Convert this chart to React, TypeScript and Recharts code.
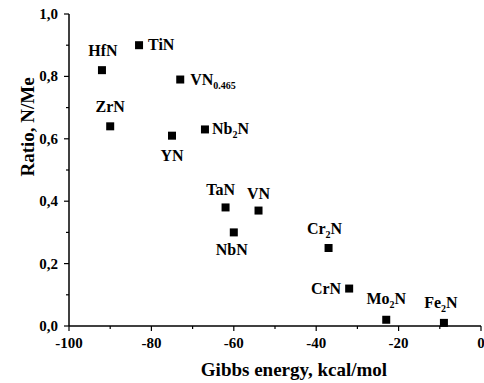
import { ScatterChart, Scatter, XAxis, YAxis } from 'recharts';

const compounds = ['HfN', 'TiN', 'VN0.465', 'ZrN', 'YN', 'Nb2N', 'TaN', 'VN', 'NbN', 'Cr2N', 'CrN', 'Mo2N', 'Fe2N'];
const gibbsEnergy = [-92, -83, -73, -90, -75, -67, -62, -54, -60, -37, -32, -23, -9];
const ratio = [0.82, 0.9, 0.79, 0.64, 0.61, 0.63, 0.38, 0.37, 0.3, 0.25, 0.12, 0.02, 0.01];

const xTicks = [-100, -90, -80, -70, -60, -50, -40, -30, -20, -10, 0];
const yTicks = [0, 0.1, 0.2, 0.3, 0.4, 0.5, 0.6, 0.7, 0.8, 0.9, 1.0];

// where each label sits relative to its marker: [dx, dy, anchor]
const labelPlacement: Record<string, [number, number, string]> = {
  HfN: [1, -14, 'middle'],
  TiN: [9, 5, 'start'],
  'VN0.465': [10, 5, 'start'],
  ZrN: [0, -14, 'middle'],
  YN: [0, 25, 'middle'],
  Nb2N: [7, 5, 'start'],
  TaN: [-5, -12, 'middle'],
  VN: [0, -12, 'middle'],
  NbN: [-2, 23, 'middle'],
  Cr2N: [-4, -14, 'middle'],
  CrN: [-8, 5, 'end'],
  Mo2N: [0, -16, 'middle'],
  Fe2N: [-3, -15, 'middle'],
};

const data = compounds.map((name, i) => ({ name, energy: gibbsEnergy[i], ratio: ratio[i] }));

const textStyle = { fontFamily: "'Liberation Serif', 'DejaVu Serif', serif", fontWeight: 'bold' as const };

function Formula({ text, x, y, anchor }: { text: string; x: number; y: number; anchor: string }) {
  const parts = text.split(/(\d[\d.]*)/).filter(p => p !== '');
  let shifted = false;
  return (
    <text x={x} y={y} textAnchor={anchor} style={{ ...textStyle, fontSize: 16 }} fill="#000">
      {parts.map((p, i) => {
        const isSub = /^\d/.test(p);
        let dy = 0;
        if (isSub && !shifted) { dy = 4; shifted = true; }
        else if (!isSub && shifted) { dy = -4; shifted = false; }
        return (
          <tspan key={i} dy={dy} style={{ fontSize: isSub ? 10 : 16 }}>{p}</tspan>
        );
      })}
    </text>
  );
}

function Marker(props: any) {
  const { cx, cy, payload } = props;
  const [dx, dy, anchor] = labelPlacement[payload.name] || [8, 5, 'start'];
  return (
    <g>
      <rect x={cx - 4} y={cy - 4} width={8} height={8} fill="#000" />
      <Formula text={payload.name} x={cx + dx} y={cy + dy} anchor={anchor} />
    </g>
  );
}

function XTick(props: any) {
  const { x, y, payload } = props;
  const major = payload.value % 20 === 0;
  return (
    <g>
      <line x1={x} y1={y} x2={x} y2={y + (major ? 5 : 3)} stroke="#000" strokeWidth={1.2} />
      {major && (
        <text x={x} y={y + 22} textAnchor="middle" style={{ ...textStyle, fontSize: 15 }} fill="#000">
          {payload.value}
        </text>
      )}
    </g>
  );
}

function YTick(props: any) {
  const { x, y, payload } = props;
  const v = Math.round(payload.value * 10);
  const major = v % 2 === 0;
  return (
    <g>
      <line x1={x} y1={y} x2={x - (major ? 5 : 3)} y2={y} stroke="#000" strokeWidth={1.2} />
      {major && (
        <text x={x - 11} y={y + 5} textAnchor="end" style={{ ...textStyle, fontSize: 15 }} fill="#000">
          {payload.value.toFixed(1).replace('.', ',')}
        </text>
      )}
    </g>
  );
}

function XTitle(props: any) {
  const { viewBox } = props;
  return (
    <text x={viewBox.x + viewBox.width / 2 + 19} y={viewBox.y + 50} textAnchor="middle" style={{ ...textStyle, fontSize: 19 }} fill="#000">
      Gibbs energy, kcal/mol
    </text>
  );
}

function YTitle() {
  return (
    <text x={0} y={0} transform="translate(34,127) rotate(-90)" textAnchor="middle" style={{ ...textStyle, fontSize: 19 }} fill="#000">
      Ratio, N/Me
    </text>
  );
}

export default function App() {
  return (
    <div style={{ position: 'absolute', left: 0, top: 0, width: 484, height: 383, background: '#fff', ...textStyle }}>
      <ScatterChart width={484} height={383} margin={{ top: 14, right: 3, bottom: 0, left: 0 }}>
        <XAxis
          type="number"
          dataKey="energy"
          domain={[-100, 0]}
          ticks={xTicks}
          interval={0}
          height={57}
          tickSize={0}
          tickMargin={0}
          tickLine={false}
          tick={<XTick />}
          axisLine={{ stroke: '#000', strokeWidth: 1.5 }}
          label={<XTitle />}
        />
        <YAxis
          type="number"
          dataKey="ratio"
          domain={[0, 1]}
          ticks={yTicks}
          interval={0}
          width={69}
          tickSize={0}
          tickMargin={0}
          tickLine={false}
          tick={<YTick />}
          axisLine={{ stroke: '#000', strokeWidth: 1.5 }}
          label={<YTitle />}
        />
        <Scatter data={data} shape={<Marker />} isAnimationActive={false} />
      </ScatterChart>
    </div>
  );
}
